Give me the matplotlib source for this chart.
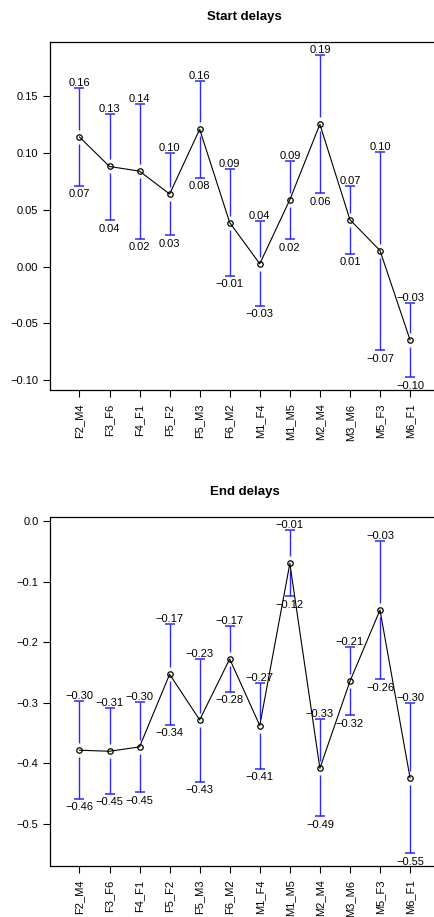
import matplotlib
matplotlib.use("Agg")
import matplotlib.pyplot as plt
from matplotlib.ticker import FuncFormatter, FixedLocator
import numpy as np

plt.rcParams['font.family'] = ['Liberation Sans', 'DejaVu Sans']
plt.rcParams['axes.unicode_minus'] = True

pairs = ["F2_M4", "F3_F6", "F4_F1", "F5_F2", "F5_M3", "F6_M2",
         "M1_F4", "M1_M5", "M2_M4", "M3_M6", "M5_F3", "M6_F1"]

# Start delays: mean with lower / upper interval bounds
start_mean = [0.1142, 0.0882, 0.0841, 0.0639, 0.1210, 0.0387,
              0.0024, 0.0589, 0.1254, 0.0413, 0.0141, -0.0647]
start_low = [0.0712, 0.0410, 0.0243, 0.0276, 0.0782, -0.0082,
             -0.0345, 0.0241, 0.0645, 0.0114, -0.0738, -0.0975]
start_high = [0.1576, 0.1348, 0.1436, 0.1002, 0.1638, 0.0859,
              0.0399, 0.0932, 0.1866, 0.0712, 0.1014, -0.0319]

# End delays: mean with lower / upper interval bounds
end_mean = [-0.3785, -0.3802, -0.3730, -0.2530, -0.3284, -0.2277,
            -0.3377, -0.0699, -0.4083, -0.2646, -0.1469, -0.4242]
end_low = [-0.4583, -0.4501, -0.4479, -0.3361, -0.4303, -0.2822,
           -0.4094, -0.1243, -0.4880, -0.3207, -0.2613, -0.5485]
end_high = [-0.2976, -0.3091, -0.2981, -0.1700, -0.2277, -0.1738,
            -0.2673, -0.0149, -0.3267, -0.2085, -0.0325, -0.3003]

start_ticks = [-0.10, -0.05, 0.00, 0.05, 0.10, 0.15]
end_ticks = [-0.5, -0.4, -0.3, -0.2, -0.1, 0.0]

W, H = 435, 917
fig = plt.figure(figsize=(W / 100, H / 100), dpi=100)

BLUE = "#2a2aff"
GAP_PX = 7.0


def fmt(v, nd=2):
    s = f"{v:.{nd}f}"
    return s.replace("-", "\u2212")


def panel(rect, title, mean, low, high, ticks, nd):
    ax = fig.add_axes(rect)
    x = np.arange(1, len(pairs) + 1)
    mean = np.asarray(mean)
    low = np.asarray(low)
    high = np.asarray(high)

    lo_all, hi_all = low.min(), high.max()
    pad = 0.04 * (hi_all - lo_all)
    ax.set_ylim(lo_all - pad, hi_all + pad)
    ax.set_xlim(0.02, len(pairs) + 0.98)

    # gap around each point, expressed in data units
    ax_h_px = rect[3] * H
    gap = GAP_PX * (hi_all - lo_all + 2 * pad) / ax_h_px

    ax.vlines(x, mean + gap, high, color=BLUE, lw=1.0, zorder=2)
    ax.vlines(x, low, mean - gap, color=BLUE, lw=1.0, zorder=2)
    ax.plot(x, high, ls="none", marker="_", ms=7.5, mew=1.1, color=BLUE, zorder=2)
    ax.plot(x, low, ls="none", marker="_", ms=7.5, mew=1.1, color=BLUE, zorder=2)

    for xi, h, l in zip(x, high, low):
        ax.annotate(fmt(h), (xi, h), xytext=(0, 2.0), textcoords="offset pixels",
                    ha="center", va="baseline", fontsize=8, color="black", zorder=3)
        ax.annotate(fmt(l), (xi, l), xytext=(0, -3.5), textcoords="offset pixels",
                    ha="center", va="top", fontsize=8, color="black", zorder=3)

    ax.plot(x, mean, color="black", lw=0.8, marker="o", ms=3.9, mfc="none",
            mec="black", mew=0.9, zorder=4)

    ax.set_xticks(x)
    ax.set_xticklabels(pairs, rotation=90, fontsize=8)
    ax.yaxis.set_major_locator(FixedLocator(ticks))
    ax.yaxis.set_major_formatter(FuncFormatter(lambda v, p: fmt(v, nd)))
    ax.tick_params(axis="both", direction="out", length=5.3, width=0.8,
                   labelsize=8, color="black")
    ax.tick_params(axis="y", pad=3.0)
    ax.tick_params(axis="x", pad=4.5)
    for side in ("left", "bottom", "top"):
        ax.spines[side].set_linewidth(0.9)
        ax.spines[side].set_color("black")
    ax.spines["right"].set_visible(False)
    ax.set_title(title, fontsize=9.5, fontweight="bold", pad=16)
    return ax


ax_w = 389.5 / W
ax_l = 50 / W
panel([ax_l, (H - 390) / H, ax_w, 348 / H], "Start delays",
      start_mean, start_low, start_high, start_ticks, 2)
panel([ax_l, (H - 866) / H, ax_w, 348.7 / H], "End delays",
      end_mean, end_low, end_high, end_ticks, 1)

fig.savefig("out.png", dpi=100)
